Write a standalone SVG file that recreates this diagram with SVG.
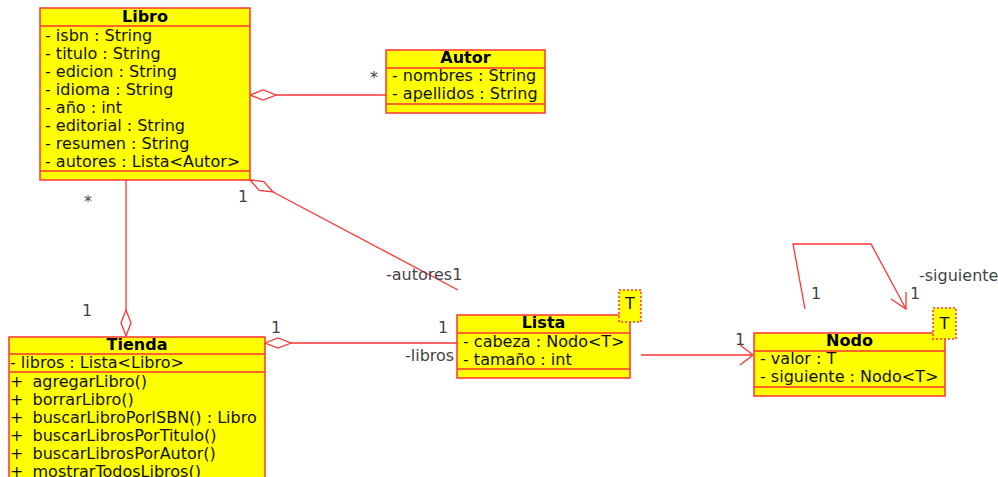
<svg xmlns="http://www.w3.org/2000/svg" width="998" height="477" viewBox="0 0 998 477">
<defs>
<style>
.box{fill:#ffff00;stroke:#ff3333;stroke-width:1.5}
.sep{stroke:#ff3333;stroke-width:1.5}
.t{font-family:"DejaVu Sans",sans-serif;font-size:16px;fill:#111}
.title{font-family:"DejaVu Sans",sans-serif;font-size:16px;font-weight:bold;fill:#000;text-anchor:middle}
.lbl{font-family:"DejaVu Sans",sans-serif;font-size:16px;fill:#444}
.ln{fill:none;stroke:#ff3333;stroke-width:1.3}
.dia{fill:#fff;stroke:#ff3333;stroke-width:1.3}
.tp{fill:#ffff00;stroke:#ff3333;stroke-width:1.5;stroke-dasharray:2,2}
</style>
</defs>
<rect width="998" height="477" fill="#fff"/>
<g id="connectors">
<line class="ln" x1="276" y1="95" x2="386" y2="95"/>
<polygon class="dia" points="250,95 263,90 276,95 263,100"/>
<line class="ln" x1="126" y1="180" x2="126" y2="310"/>
<polygon class="dia" points="126,310 131,323 126,336 121,323"/>
<line class="ln" x1="273" y1="192" x2="458" y2="290"/>
<polygon class="dia" points="250,180 263.8,181.6 273,192 259.2,190.4"/>
<line class="ln" x1="291" y1="343" x2="457" y2="343"/>
<polygon class="dia" points="265,343 278,338 291,343 278,348"/>
<line class="ln" x1="641" y1="355" x2="753" y2="355"/>
<polyline class="ln" points="740,345 753,355 740,365"/>
<polyline class="ln" points="805,309 793,244 871,244 906,309"/>
<polyline class="ln" points="891,299 906,309 906,292"/>
<text class="lbl" x="370" y="83">*</text>
<text class="lbl" x="84" y="207">*</text>
<text class="lbl" x="82" y="316">1</text>
<text class="lbl" x="238" y="202">1</text>
<text class="lbl" x="386" y="280">-autores1</text>
<text class="lbl" x="271" y="333">1</text>
<text class="lbl" x="438" y="333">1</text>
<text class="lbl" x="405" y="361">-libros</text>
<text class="lbl" x="735" y="345">1</text>
<text class="lbl" x="811" y="299">1</text>
<text class="lbl" x="910" y="299">1</text>
<text class="lbl" x="919" y="281">-siguiente</text>
</g>
<g id="Libro">
<rect class="box" x="40" y="8" width="210" height="172"/>
<line class="sep" x1="40" y1="26" x2="250" y2="26"/>
<line class="sep" x1="40" y1="171" x2="250" y2="171"/>
<text class="title" x="145" y="22">Libro</text>
<text class="t" x="45" y="41">- isbn : String</text>
<text class="t" x="45" y="59">- titulo : String</text>
<text class="t" x="45" y="77">- edicion : String</text>
<text class="t" x="45" y="95">- idioma : String</text>
<text class="t" x="45" y="113">- año : int</text>
<text class="t" x="45" y="131">- editorial : String</text>
<text class="t" x="45" y="149">- resumen : String</text>
<text class="t" x="45" y="167">- autores : Lista&lt;Autor&gt;</text>
</g>
<g id="Autor">
<rect class="box" x="386" y="50" width="159" height="63"/>
<line class="sep" x1="386" y1="68" x2="545" y2="68"/>
<line class="sep" x1="386" y1="104" x2="545" y2="104"/>
<text class="title" x="465.5" y="63">Autor</text>
<text class="t" x="392" y="81">- nombres : String</text>
<text class="t" x="392" y="99">- apellidos : String</text>
</g>
<g id="Tienda">
<rect class="box" x="9" y="337" width="256" height="150"/>
<line class="sep" x1="9" y1="354" x2="265" y2="354"/>
<line class="sep" x1="9" y1="372" x2="265" y2="372"/>
<text class="title" x="137" y="350">Tienda</text>
<text class="t" x="10" y="368">- libros : Lista&lt;Libro&gt;</text>
<text class="t" x="10" y="387">+ <tspan dx="4">agregarLibro()</tspan></text>
<text class="t" x="10" y="405">+ <tspan dx="4">borrarLibro()</tspan></text>
<text class="t" x="10" y="423">+ <tspan dx="4">buscarLibroPorISBN() : Libro</tspan></text>
<text class="t" x="10" y="441">+ <tspan dx="4">buscarLibrosPorTitulo()</tspan></text>
<text class="t" x="10" y="459">+ <tspan dx="4">buscarLibrosPorAutor()</tspan></text>
<text class="t" x="10" y="477">+ <tspan dx="4">mostrarTodosLibros()</tspan></text>
</g>
<g id="Lista">
<rect class="box" x="457" y="315" width="173" height="63"/>
<line class="sep" x1="457" y1="333" x2="630" y2="333"/>
<line class="sep" x1="457" y1="369" x2="630" y2="369"/>
<rect class="tp" x="619" y="290" width="22" height="32"/>
<text class="t" x="630" y="309" text-anchor="middle">T</text>
<text class="title" x="543.5" y="328">Lista</text>
<text class="t" x="463" y="347">- cabeza : Nodo&lt;T&gt;</text>
<text class="t" x="463" y="365">- tamaño : int</text>
</g>
<g id="Nodo">
<rect class="box" x="754" y="333" width="191" height="63"/>
<line class="sep" x1="754" y1="351" x2="945" y2="351"/>
<line class="sep" x1="754" y1="387" x2="945" y2="387"/>
<rect class="tp" x="933" y="308" width="23" height="31"/>
<text class="t" x="944.5" y="329" text-anchor="middle">T</text>
<text class="title" x="849.5" y="346">Nodo</text>
<text class="t" x="760" y="364">- valor : T</text>
<text class="t" x="760" y="382">- siguiente : Nodo&lt;T&gt;</text>
</g>
</svg>
